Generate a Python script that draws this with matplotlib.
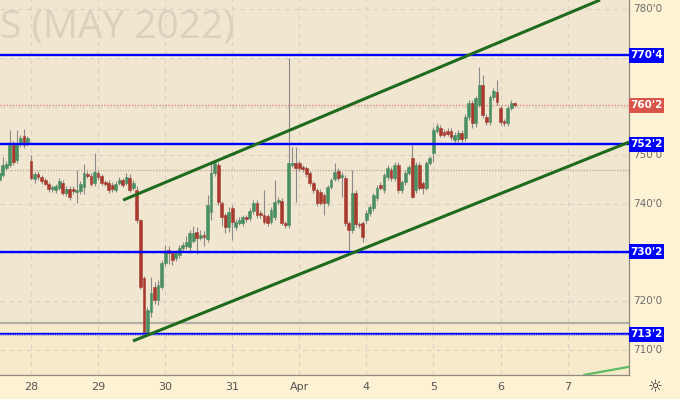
import matplotlib
matplotlib.use("Agg")
import matplotlib.pyplot as plt
from matplotlib.patches import Rectangle

# ---------------- data ----------------
first_bar = -9
opens = [744.9, 746.0, 747.4, 748.0, 752.1, 749.0, 752.3, 753.9, 752.7,
         748.8, 745.1, 746.2, 745.5, 744.9, 744.2, 743.0, 742.8, 743.3, 744.3,
         742.3, 743.1, 743.1, 742.5, 742.7, 743.5, 746.2, 745.8, 744.3,
         746.4, 745.7, 744.5, 744.3, 744.0, 742.9, 744.3, 745.0, 744.3, 745.3,
         743.3, 742.9, 736.7, 724.8, 713.3, 717.8, 723.0, 720.3, 723.0,
         727.9, 730.6, 730.0, 729.0, 729.6, 731.0, 731.4, 731.2, 732.4, 734.3,
         733.0, 733.6, 732.8, 738.4, 746.4, 748.0, 740.2, 737.7, 735.3,
         739.2, 735.3, 736.1, 736.1, 737.3, 737.1, 738.6, 740.2, 738.2, 737.7,
         737.5, 736.3, 737.3, 740.4, 740.6, 736.1, 735.7, 748.0, 748.4,
         748.4, 747.6, 747.4, 746.4, 744.3, 742.9, 742.5, 741.8, 740.2, 743.5,
         745.1, 746.8, 745.5, 745.3, 736.1, 734.7, 742.3, 735.9, 736.1,
         736.7, 738.2, 739.2, 741.2, 743.9, 742.9, 745.5, 747.0, 745.3, 748.0,
         742.9, 744.5, 746.4, 749.4, 742.9, 748.0, 744.3, 743.3, 748.4,
         750.5, 755.0, 755.6, 754.8, 755.0, 755.0, 753.1, 753.3, 754.6, 753.5,
         757.8, 760.7, 756.6, 760.3, 764.4, 757.8, 756.8, 761.9, 763.0,
         759.7, 757.0, 756.6, 759.7, 760.7]
highs = [747.0, 749.6, 748.8, 755.2, 753.0, 755.2, 754.2, 755.4, 754.0,
         750.0, 746.6, 746.8, 746.0, 745.3, 744.6, 744.0, 744.1, 745.3, 745.0,
         743.6, 743.6, 743.6, 747.0, 744.8, 748.2, 746.8, 746.3, 750.4,
         746.9, 746.2, 745.0, 744.9, 744.6, 744.7, 745.5, 745.4, 746.4, 746.2,
         745.0, 743.7, 737.0, 725.3, 718.8, 725.0, 724.0, 724.5, 728.5,
         731.6, 731.4, 730.4, 730.6, 731.6, 732.2, 733.4, 734.7, 735.5, 735.3,
         734.6, 734.5, 741.8, 748.4, 749.1, 748.6, 740.6, 738.2, 739.4,
         739.8, 736.9, 737.3, 737.8, 737.8, 739.1, 740.8, 740.8, 738.8, 742.9,
         738.0, 739.3, 744.9, 741.4, 741.2, 736.6, 770.0, 751.7, 751.7,
         748.9, 748.0, 747.8, 746.8, 744.7, 743.3, 743.0, 742.2, 744.0, 745.4,
         748.4, 747.4, 746.6, 746.0, 736.6, 747.0, 742.8, 736.3, 736.6,
         738.8, 739.9, 742.3, 743.8, 744.5, 746.4, 748.0, 747.6, 748.6, 748.6,
         745.0, 746.9, 748.1, 752.1, 748.6, 748.6, 744.8, 748.9, 749.9,
         755.8, 756.6, 756.2, 755.3, 755.5, 755.5, 754.8, 755.2, 755.2, 758.4,
         761.3, 761.3, 762.2, 768.1, 766.4, 758.4, 762.4, 763.7, 765.4,
         760.2, 757.5, 760.2, 761.3, 761.0]
lows = [744.0, 745.5, 747.0, 747.6, 748.0, 748.4, 751.6, 751.4, 752.0,
        744.9, 744.4, 745.0, 744.2, 743.8, 742.4, 742.5, 742.2, 742.9, 741.8,
        741.7, 740.8, 742.0, 740.3, 742.1, 742.0, 745.3, 743.6, 743.6,
        745.0, 743.8, 743.6, 742.3, 742.4, 742.4, 743.9, 743.4, 743.9, 742.4,
        742.8, 736.0, 722.5, 712.9, 712.9, 716.8, 719.5, 719.2, 722.5,
        727.2, 727.6, 727.5, 728.4, 729.0, 730.4, 730.8, 730.2, 732.0, 729.7,
        732.6, 731.3, 732.2, 736.7, 745.8, 739.8, 735.4, 734.0, 734.3,
        732.6, 734.7, 735.6, 735.5, 736.3, 736.6, 738.0, 737.2, 737.2, 735.8,
        735.5, 735.8, 736.8, 739.9, 735.6, 735.0, 735.0, 747.5, 740.4,
        746.8, 746.6, 745.6, 743.7, 742.3, 739.6, 739.8, 737.7, 739.6, 743.0,
        744.7, 744.8, 741.4, 735.5, 730.6, 734.1, 735.3, 735.1, 732.2,
        736.2, 737.5, 738.6, 740.6, 742.8, 742.3, 745.0, 744.8, 744.8, 742.3,
        742.3, 744.0, 745.9, 741.2, 742.3, 742.8, 742.0, 742.8, 747.9,
        748.6, 754.5, 753.7, 753.7, 753.9, 753.2, 752.6, 752.8, 752.8, 753.0,
        757.2, 755.5, 755.8, 759.8, 757.7, 756.2, 756.2, 761.4, 760.4,
        756.3, 756.0, 756.1, 759.2, 760.0]
closes = [746.4, 748.0, 748.2, 752.1, 748.6, 752.3, 753.5, 752.1, 753.5,
          745.3, 746.2, 745.5, 744.7, 744.2, 743.0, 743.5, 743.7, 744.7, 742.3,
          743.1, 741.5, 742.7, 742.9, 744.1, 746.4, 745.8, 744.1, 746.6,
          745.5, 744.3, 744.1, 742.9, 743.0, 744.1, 745.0, 743.9, 745.5, 742.9,
          744.3, 736.7, 723.0, 713.1, 718.3, 721.7, 720.3, 723.4, 727.9,
          730.2, 730.0, 728.5, 730.2, 731.0, 731.6, 732.2, 734.0, 734.1, 733.0,
          733.6, 733.2, 739.8, 746.4, 748.4, 740.4, 737.3, 735.3, 738.4,
          736.3, 736.3, 736.7, 737.3, 736.9, 738.6, 740.2, 737.7, 737.7, 736.3,
          736.1, 738.8, 740.4, 740.8, 736.1, 735.7, 748.4, 748.4, 747.4,
          747.4, 747.2, 746.2, 744.3, 742.9, 740.2, 740.2, 740.2, 743.5, 744.9,
          746.6, 745.3, 745.9, 736.1, 734.7, 742.3, 735.9, 735.7, 733.2,
          738.2, 739.4, 741.8, 743.3, 743.3, 745.9, 747.4, 745.3, 748.0, 742.9,
          744.5, 746.4, 747.6, 741.4, 748.0, 743.3, 743.3, 748.4, 749.4,
          755.2, 756.0, 754.2, 754.2, 754.4, 753.7, 754.2, 754.6, 753.3, 757.8,
          760.7, 756.6, 761.7, 764.4, 758.3, 756.8, 761.9, 763.2, 760.9,
          756.8, 756.6, 759.7, 760.7, 760.25]

day_labels = ["28", "29", "30", "31", "Apr", "4", "5", "6", "7"]
day_start_bars = [0, 19, 38, 57, 76, 95, 114, 133, 152]
price_ticks = [780, 750, 740, 720, 710]
price_tick_labels = ["780'0", "750'0", "740'0", "720'0", "710'0"]
grid_prices = [710, 720, 730, 740, 750, 760, 770, 780]
level_prices = [770.5, 752.25, 730.25, 713.25]
level_labels = ["770'4", "752'2", "730'2", "713'2"]
last_price = 760.25
last_label = "760'2"
upper_channel_x = [26.1, 161.2]
upper_channel_y = [740.8, 781.85]
lower_channel_x = [28.9, 169.4]
lower_channel_y = [711.9, 752.7]
light_line_x = [156.4, 169.4]
light_line_y = [704.9, 706.6]
grey_level = 715.6
dotted_level = 747.0

# ---------------- figure ----------------
W, H = 680, 399
fig = plt.figure(figsize=(W / 100, H / 100), dpi=100)
fig.patch.set_facecolor("#FDF2D4")
plot_w, plot_h = 629, 375
ax = fig.add_axes([0, (H - plot_h) / H, plot_w / W, plot_h / H])
ax.set_facecolor("#F1E6CF")
XMIN, XMAX = -8.78, 169.4
YMIN, YMAX = 704.92, 781.85
ax.set_xlim(XMIN, XMAX)
ax.set_ylim(YMIN, YMAX)
ax.set_xticks([])
ax.set_yticks([])
for s in ["top", "left"]:
    ax.spines[s].set_visible(False)
ax.spines["right"].set_color("#8F887C")
ax.spines["bottom"].set_color("#8F887C")
ax.spines["right"].set_linewidth(0.9)
ax.spines["bottom"].set_linewidth(0.9)

# lower band
ax.axhspan(YMIN, grey_level, color="#F6EACB", zorder=0.2, lw=0)

# watermark
ax.text(0.0, 0.9013, "S (MAY 2022)", transform=ax.transAxes, fontsize=28,
        family="Open Sans", color="#DBD1BD", ha="left", va="baseline", zorder=0.5)

# grid
for b in day_start_bars:
    ax.axvline(b, color="#D9D2C4", lw=0.8, ls=(0, (4, 4)), zorder=1)
for p in grid_prices:
    ax.axhline(p, color="#D9D2C4", lw=0.8, ls=(0, (4, 4)), zorder=1)

# horizontal helper lines
ax.axhline(grey_level, color="#B3AEA6", lw=1.6, zorder=2)
ax.axhline(dotted_level, color="#BFAE9A", lw=1.0, ls=(0, (1, 1)), zorder=2)
ax.axhline(last_price, color="#E08A80", lw=1.0, ls=(0, (1, 1.2)), zorder=2)
ax.axhline(770.2, color="#FFFFFF", lw=0.9, ls=(0, (1, 1)), zorder=2)

# candles
green, red, wick = "#4A8F62", "#A8392E", "#8A8A8A"
for k, (o, h, l, c) in enumerate(zip(opens, highs, lows, closes)):
    x = first_bar + k
    ax.vlines(x, l, h, color=wick, lw=0.8, zorder=3)
    col = green if c >= o else red
    bot, top = min(o, c), max(o, c)
    if top - bot < 0.25:
        top = bot + 0.25
    ax.bar(x, top - bot, bottom=bot, width=0.8, color=col, lw=0.4,
           edgecolor=col, zorder=4)

# blue levels
for p in level_prices:
    ax.axhline(p, color="#0000FF", lw=1.7, zorder=5)
ax.axhline(level_prices[-1], color="#FFFFFF", lw=0.5, ls=(0, (1, 1.5)), zorder=5.5)

# channel lines
ax.plot(upper_channel_x, upper_channel_y, color="#1E6A1E", lw=2.2, zorder=6,
        solid_capstyle="butt")
ax.plot(lower_channel_x, lower_channel_y, color="#1E6A1E", lw=2.2, zorder=6,
        solid_capstyle="butt")
ax.plot(light_line_x, light_line_y, color="#5DBB63", lw=1.6, zorder=6,
        solid_capstyle="butt", clip_on=True)

# x labels
xt = ax.get_xaxis_transform()
for b, lab in zip(day_start_bars, day_labels):
    ax.text(b, -12 / plot_h, lab, transform=xt, ha="center", va="center",
            fontsize=8, color="#555555", clip_on=False)

# y labels
yt = ax.get_yaxis_transform()
label_x = 648 / plot_w
for p, lab in zip(price_ticks, price_tick_labels):
    ax.text(label_x, p, lab, transform=yt, ha="center", va="center",
            fontsize=7.5, color="#6E6E6E", clip_on=False)

ppx = (YMAX - YMIN) / plot_h  # price units per pixel
box_x0, box_x1 = 1.0, 664 / plot_w
box_h = 15 * ppx


def price_box(p, text, color):
    r = Rectangle((box_x0, p - box_h / 2), box_x1 - box_x0, box_h,
                  transform=yt, facecolor=color, edgecolor="none",
                  clip_on=False, zorder=10)
    ax.add_patch(r)
    ax.text((box_x0 + box_x1) / 2, p, text, transform=yt, ha="center",
            va="center", fontsize=7.5, color="white", fontweight="bold",
            clip_on=False, zorder=11)


for p, lab in zip(level_prices, level_labels):
    price_box(p, lab, "#0000FF")
price_box(last_price, last_label, "#D9544A")

# settings icon
fig.text(655 / W, (H - 387) / H, "\u263C", ha="center", va="center",
         fontsize=12, color="#333333", family="DejaVu Sans")

fig.savefig("out.png", dpi=100, facecolor=fig.get_facecolor())
